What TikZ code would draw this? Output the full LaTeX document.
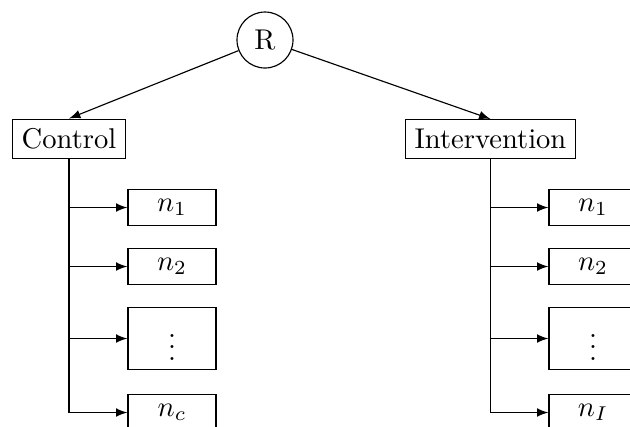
\documentclass[tikz,border=0pt]{standalone}
\usetikzlibrary{arrows}
\begin{document}
\begin{tikzpicture}[x=0.35pt,y=-0.35pt,
  box/.style={draw, rectangle},
  leaf/.style={draw, rectangle, minimum width=30.8pt},
  arr/.style={-latex}]
\clip (0,0) rectangle (630,426);
% root
\node[draw, circle, minimum size=19.6pt, inner sep=0pt] (R) at (265,40) {R};
% groups
\node[box] (ctrl) at (69,139) {Control};
\node[box] (intv) at (490.5,139) {Intervention};
% control members
\node[leaf] (c1) at (172,207.5) {$n_1$};
\node[leaf] (c2) at (172,266.5) {$n_2$};
\node[leaf] (c3) at (172,338.5) {$\vdots$};
\node[leaf] (c4) at (172,412.5) {$n_c$};
% intervention members
\node[leaf] (i1) at (593,207.5) {$n_1$};
\node[leaf] (i2) at (593,266.5) {$n_2$};
\node[leaf] (i3) at (593,338.5) {$\vdots$};
\node[leaf] (i4) at (593,412.5) {$n_I$};
% connectors
\draw[arr] (R) -- (ctrl.north);
\draw[arr] (R) -- (intv.north);
\foreach \n in {c1,c2,c3,c4} \draw[arr] (ctrl.south) |- (\n.west);
\foreach \n in {i1,i2,i3,i4} \draw[arr] (intv.south) |- (\n.west);
\end{tikzpicture}
\end{document}
